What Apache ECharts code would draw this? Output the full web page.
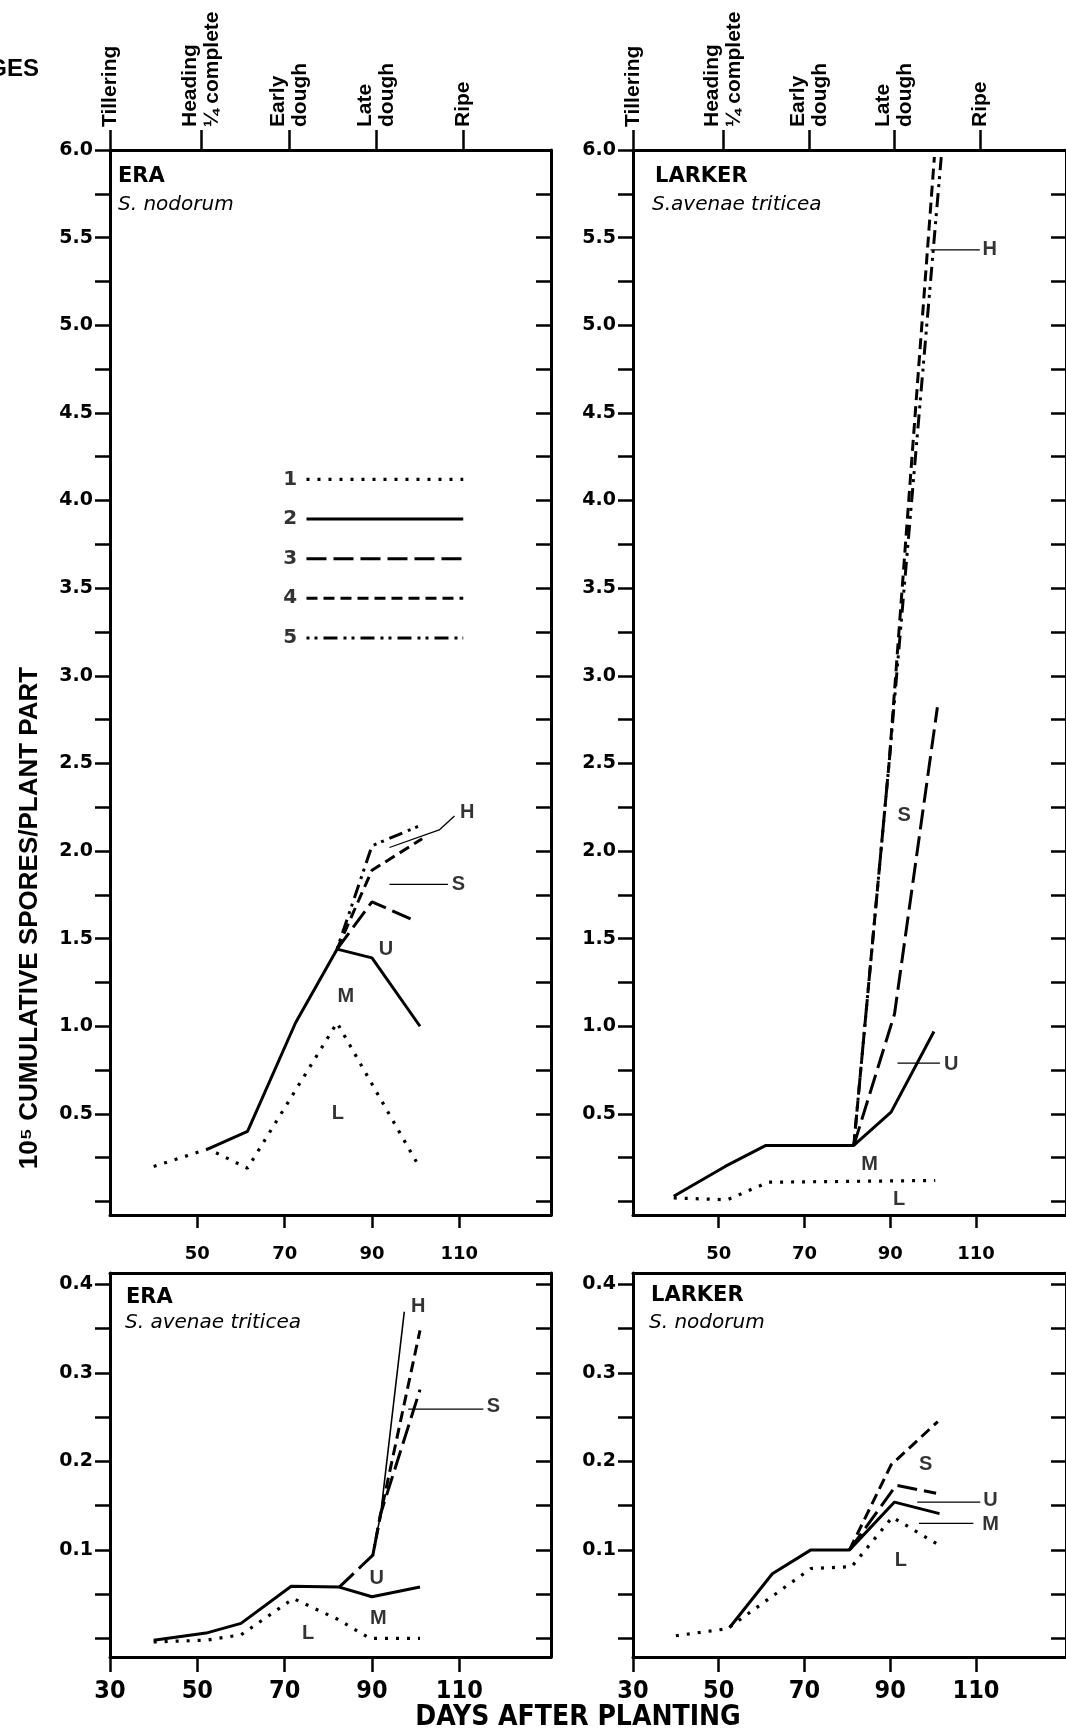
<!DOCTYPE html>
<html>
<head>
<meta charset="utf-8">
<script src="https://cdn.jsdelivr.net/npm/echarts@6/dist/echarts.min.js"></script>
<style>
  html, body { margin: 0; padding: 0; background: #fff; overflow: hidden; }
  #chart { width: 1066px; height: 1736px; }
</style>
</head>
<body>
<div id="chart"></div>
<script>
// ---- axis ticks and labels ----
const stageDays = [30, 51, 71, 91, 111];
const stageNames = ['Tillering', 'Heading\n\u00BC complete', 'Early\ndough', 'Late\ndough', 'Ripe'];
const upperYTicks = [0, 0.25, 0.5, 0.75, 1, 1.25, 1.5, 1.75, 2, 2.25, 2.5, 2.75, 3, 3.25, 3.5, 3.75, 4, 4.25, 4.5, 4.75, 5, 5.25, 5.5, 5.75, 6];
const upperYLabels = [0.5, 1, 1.5, 2, 2.5, 3, 3.5, 4, 4.5, 5, 5.5, 6];
const lowerYTicks = [0, 0.05, 0.1, 0.15, 0.2, 0.25, 0.3, 0.35, 0.4];
const lowerYLabels = [0.1, 0.2, 0.3, 0.4];
const upperDayTicks = [50, 70, 90, 110];
const lowerDayTicks = [30, 50, 70, 90, 110];
const legendKeys = ['1', '2', '3', '4', '5'];

// ---- ERA, S. nodorum (days after planting, 10^5 spores) ----
const eraNodL = [[40, 0.20], [52.5, 0.30], [61.5, 0.19], [82, 1.02], [101, 0.19]];
const eraNodM = [[52.5, 0.30], [61.5, 0.40], [72.5, 1.02], [82, 1.44], [90, 1.39], [101, 1.00]];
const eraNodU = [[82, 1.44], [90, 1.71], [100, 1.60]];
const eraNodS = [[82, 1.44], [90, 1.89], [101.5, 2.07]];
const eraNodH = [[82, 1.44], [90, 2.03], [101.5, 2.15]];
const eraNodTags = [['H', 111.8, 2.22], ['S', 109.8, 1.81], ['U', 93.2, 1.44], ['M', 84, 1.17], ['L', 82.2, 0.50]];
const eraNodLeaders = [[[94, 2.02], [105.4, 2.12], [108.9, 2.20]], [[94, 1.81], [107.4, 1.81]]];

// ---- LARKER, S. avenae triticea ----
const larAveL = [[39.5, 0.02], [52, 0.01], [61.5, 0.11], [100.5, 0.12]];
const larAveMU = [[39.5, 0.03], [51.5, 0.20], [61, 0.32], [81.5, 0.32], [90.2, 0.51], [100.2, 0.97]];
const larAveS = [[81.5, 0.32], [91, 1.07], [101, 2.82]];
const larAveH1 = [[81.5, 0.32], [89.8, 2.52], [100.3, 5.96]];
const larAveH2 = [[81.5, 0.32], [89.8, 2.52], [101.9, 5.96]];
const larAveTags = [['H', 113.2, 5.43], ['S', 93.25, 2.20], ['U', 104.2, 0.78], ['M', 85.2, 0.21], ['L', 92.1, 0.01]];
const larAveLeaders = [[[99.4, 5.43], [110.9, 5.43]], [[91.7, 0.79], [101.6, 0.79]]];

// ---- ERA, S. avenae triticea ----
const eraAveL = [[40, -0.004], [52, -0.002], [60, 0.004], [72, 0.045], [82, 0.022], [89.5, 0.0], [101, 0.0]];
const eraAveM = [[40, -0.002], [52, 0.006], [60, 0.017], [71.5, 0.059], [82.5, 0.058], [90, 0.047], [101, 0.058]];
const eraAveU = [[82.5, 0.058], [90.2, 0.094], [92, 0.141], [101, 0.281]];
const eraAveS = [[90.2, 0.094], [92, 0.141], [101, 0.348]];
const eraAveH = [[90.2, 0.094], [92, 0.141], [97.4, 0.369]];
const eraAveTags = [['H', 100.6, 0.375], ['S', 117.8, 0.262], ['U', 91.1, 0.068], ['M', 91.45, 0.023], ['L', 75.4, 0.006]];
const eraAveLeaders = [[[98.3, 0.259], [115.5, 0.259]]];

// ---- LARKER, S. nodorum ----
const larNodL = [[40, 0.003], [52, 0.011], [71.5, 0.079], [81, 0.081], [90.5, 0.137], [101.5, 0.105]];
const larNodM = [[52.5, 0.012], [62.5, 0.073], [71.5, 0.10], [80.5, 0.10], [91, 0.154], [101.5, 0.141]];
const larNodU = [[80.5, 0.10], [91.4, 0.173], [100.7, 0.164]];
const larNodS = [[80.5, 0.10], [90.2, 0.196], [101.1, 0.245]];
const larNodTags = [['S', 98.25, 0.196], ['U', 113.4, 0.156], ['M', 113.4, 0.129], ['L', 92.5, 0.088]];
const larNodLeaders = [[[96.3, 0.154], [111.0, 0.154]], [[96.7, 0.13], [109.4, 0.13]]];

// ---- styling ----
const INK = '#000';
const BOLD_FONT = 'DejaVu Sans';
const NARROW_FONT = '"Liberation Sans Narrow", "DejaVu Sans Condensed", "Liberation Sans", sans-serif';
const lineStyles = {
  dotted:  { color: INK, width: 3.2, type: [3, 8] },
  solid:   { color: INK, width: 3, type: 'solid' },
  longDash:{ color: INK, width: 3, type: [20, 7] },
  dash:    { color: INK, width: 3, type: [11, 6] },
  dashDot: { color: INK, width: 3, type: [3, 5, 3, 6, 14, 6] },
  thin:    { color: INK, width: 1.6, type: 'solid' },
  leader:  { color: INK, width: 1.3, type: 'solid' }
};
const legendStyles = ['dotted', 'solid', 'longDash', 'dash', 'dashDot'];

// panel frames
const grids = [
  { left: 110, top: 150, width: 441, height: 1065 },
  { left: 633, top: 150, width: 437, height: 1065 },
  { left: 110, top: 1273, width: 441, height: 384 },
  { left: 633, top: 1273, width: 437, height: 384 }
];
const X_MIN = 30, X_MAX = 131;
const UPPER_Y = [-0.077, 6.0];
const LOWER_Y = [-0.021, 0.4128];

const xAxes = [], yAxes = [];
grids.forEach((g, i) => {
  const upper = i < 2;
  const axisLine = { show: true, onZero: false, lineStyle: { color: INK, width: 3 } };
  xAxes.push({
    type: 'value', gridIndex: i, position: 'bottom', min: X_MIN, max: X_MAX,
    axisLine: axisLine,
    axisTick: { show: true, inside: false, length: upper ? 13 : 15,
      customValues: upper ? upperDayTicks : lowerDayTicks, lineStyle: { color: INK, width: 2.5 } },
    axisLabel: upper
      ? { show: true, customValues: upperDayTicks, margin: 30, color: INK,
          fontFamily: BOLD_FONT, fontWeight: 'bold', fontSize: 18 }
      : { show: true, customValues: lowerDayTicks, margin: 22, color: INK,
          fontFamily: NARROW_FONT, fontWeight: 'bold', fontSize: 25 },
    splitLine: { show: false }
  });
  xAxes.push(upper ? {
    type: 'value', gridIndex: i, position: 'top', min: X_MIN, max: X_MAX,
    axisLine: axisLine,
    axisTick: { show: true, inside: false, length: 20, customValues: stageDays,
      lineStyle: { color: INK, width: 2.5 } },
    axisLabel: { show: true, customValues: stageDays, rotate: -90, margin: 23, color: INK,
      fontFamily: 'Liberation Sans', fontWeight: 'bold', fontSize: 21, lineHeight: 22,
      formatter: v => stageNames[stageDays.indexOf(Math.round(v))] || '' },
    splitLine: { show: false }
  } : {
    type: 'value', gridIndex: i, position: 'top', min: X_MIN, max: X_MAX,
    axisLine: axisLine, axisTick: { show: false }, axisLabel: { show: false },
    splitLine: { show: false }
  });
  const yr = upper ? UPPER_Y : LOWER_Y;
  const ticks = upper ? upperYTicks : lowerYTicks;
  yAxes.push({
    type: 'value', gridIndex: i, position: 'left', min: yr[0], max: yr[1],
    axisLine: { show: true, onZero: false, lineStyle: { color: INK, width: 3 } },
    axisTick: { show: true, inside: false, length: 15, customValues: ticks,
      lineStyle: { color: INK, width: 2.5 } },
    axisLabel: { show: true, customValues: upper ? upperYLabels : lowerYLabels, margin: 17,
      color: INK, fontFamily: BOLD_FONT, fontWeight: 'bold', fontSize: 19,
      formatter: v => Number(v).toFixed(1) },
    splitLine: { show: false }
  });
  yAxes.push({
    type: 'value', gridIndex: i, position: 'right', min: yr[0], max: yr[1],
    axisLine: { show: true, onZero: false, lineStyle: { color: INK, width: 3 } },
    axisTick: { show: true, inside: true, length: 15, customValues: ticks,
      lineStyle: { color: INK, width: 2.5 } },
    axisLabel: { show: false },
    splitLine: { show: false }
  });
});

const series = [];
function curve(panel, data, style) {
  series.push({
    type: 'line', xAxisIndex: panel * 2, yAxisIndex: panel * 2, data: data,
    symbol: 'none', showSymbol: false, silent: true, animation: false,
    lineStyle: lineStyles[style], z: 3
  });
}
function tags(panel, list, size, family) {
  series.push({
    type: 'scatter', xAxisIndex: panel * 2, yAxisIndex: panel * 2,
    data: list.map(t => ({ name: t[0], value: [t[1], t[2]] })),
    symbol: 'circle', symbolSize: 1, itemStyle: { color: 'rgba(0,0,0,0)' },
    silent: true, animation: false, z: 4,
    label: { show: true, position: 'inside', formatter: '{b}', color: INK,
      fontFamily: family || 'Liberation Sans', fontSize: size || 20, fontWeight: 'bold' }
  });
}
function leaders(panel, list) {
  list.forEach(path => curve(panel, path, 'leader'));
}

// ERA, S. nodorum
curve(0, eraNodL, 'dotted');
curve(0, eraNodM, 'solid');
curve(0, eraNodU, 'longDash');
curve(0, eraNodS, 'dash');
curve(0, eraNodH, 'dashDot');
tags(0, eraNodTags);
leaders(0, eraNodLeaders);

// key to line patterns
const legendTop = 4.12, legendStep = 0.226, legendX0 = 75, legendX1 = 110.9, legendNumX = 71.3;
legendKeys.forEach((k, i) => {
  const v = legendTop - i * legendStep;
  curve(0, [[legendX0, v], [legendX1, v]], legendStyles[i]);
});
tags(0, legendKeys.map((k, i) => [k, legendNumX, legendTop - i * legendStep]), 20, 'DejaVu Sans');

// LARKER, S. avenae triticea
curve(1, larAveL, 'dotted');
curve(1, larAveMU, 'solid');
curve(1, larAveS, 'longDash');
curve(1, larAveH1, 'dash');
curve(1, larAveH2, 'dashDot');
tags(1, larAveTags);
leaders(1, larAveLeaders);

// ERA, S. avenae triticea
curve(2, eraAveL, 'dotted');
curve(2, eraAveM, 'solid');
curve(2, eraAveU, 'longDash');
curve(2, eraAveS, 'dash');
curve(2, eraAveH, 'thin');
tags(2, eraAveTags);
leaders(2, eraAveLeaders);

// LARKER, S. nodorum
curve(3, larNodL, 'dotted');
curve(3, larNodM, 'solid');
curve(3, larNodU, 'longDash');
curve(3, larNodS, 'dash');
tags(3, larNodTags);
leaders(3, larNodLeaders);

function txt(text, x, y, font, align, rotation) {
  return {
    type: 'text', x: x, y: y, rotation: rotation || 0, silent: true, z: 10,
    style: { text: text, fill: INK, font: font,
      align: align || 'left', verticalAlign: 'middle',
      textAlign: align || 'left', textVerticalAlign: 'middle' }
  };
}
const titleFont = 'bold 21px "DejaVu Sans"';
const subFont = 'italic 20px "DejaVu Sans"';

const graphic = [
  txt('GROWTH STAGES', 39, 69, 'bold 24px "Liberation Sans"', 'right'),
  txt('10\u2075 CUMULATIVE SPORES/PLANT PART', 30, 918, 'bold 26px "Liberation Sans"', 'center', Math.PI / 2),
  txt('DAYS AFTER PLANTING', 578, 1718, 'bold 28px ' + NARROW_FONT, 'center'),
  txt('ERA', 118, 177, titleFont),
  txt('S. nodorum', 118, 205, subFont),
  txt('LARKER', 655, 177, titleFont),
  txt('S.avenae triticea', 652, 205, subFont),
  txt('ERA', 126, 1298, titleFont),
  txt('S. avenae triticea', 125, 1323, subFont),
  txt('LARKER', 651, 1296, titleFont),
  txt('S. nodorum', 649, 1323, subFont)
];

const chart = echarts.init(document.getElementById('chart'), null, { renderer: 'canvas' });
chart.setOption({
  animation: false,
  backgroundColor: '#fff',
  textStyle: { fontFamily: 'DejaVu Sans', color: INK },
  grid: grids.map(g => Object.assign({ containLabel: false }, g)),
  xAxis: xAxes,
  yAxis: yAxes,
  series: series,
  graphic: graphic
});
</script>
</body>
</html>
